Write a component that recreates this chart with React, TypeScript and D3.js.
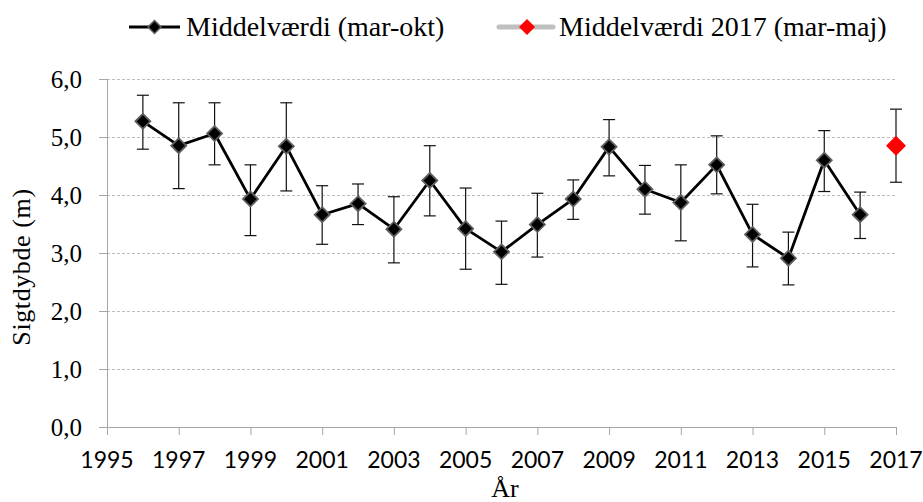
import * as d3 from 'd3';

// Sigtdybde, middelværdi mar-okt med min/max (fejlstreger)
const years = [1996, 1997, 1998, 1999, 2000, 2001, 2002, 2003, 2004, 2005, 2006, 2007, 2008, 2009, 2010, 2011, 2012, 2013, 2014, 2015, 2016];
const means = [5.27, 4.85, 5.06, 3.93, 4.84, 3.66, 3.85, 3.41, 4.25, 3.42, 3.02, 3.49, 3.93, 4.83, 4.1, 3.87, 4.52, 3.32, 2.91, 4.6, 3.66];
const upper = [5.72, 5.59, 5.59, 4.52, 5.59, 4.16, 4.19, 3.97, 4.85, 4.12, 3.55, 4.03, 4.26, 5.3, 4.51, 4.52, 5.02, 3.84, 3.36, 5.11, 4.05];
const lower = [4.79, 4.11, 4.52, 3.3, 4.07, 3.15, 3.49, 2.83, 3.64, 2.72, 2.46, 2.93, 3.58, 4.33, 3.67, 3.21, 4.02, 2.76, 2.45, 4.06, 3.25];

// 2017 (mar-maj)
const year2017 = [2017];
const mean2017 = [4.85];
const upper2017 = [5.48];
const lower2017 = [4.22];

const yTicks = [0, 1, 2, 3, 4, 5, 6];
const xTicks = [1995, 1997, 1999, 2001, 2003, 2005, 2007, 2009, 2011, 2013, 2015, 2017];
const legendLabels = ['Middelværdi (mar-okt)', 'Middelværdi 2017 (mar-maj)'];

const width = 923;
const height = 502;
const serif = '"Liberation Serif", serif';
const sans = 'Lato, "Liberation Sans", sans-serif';

const diamond = (cx: number, cy: number, r: number) =>
  `M${cx},${cy - r}L${cx + r},${cy}L${cx},${cy + r}L${cx - r},${cy}Z`;

export default function App() {
  const x = d3.scaleLinear().domain([1995, 2017]).range([107, 896]);
  const y = d3.scaleLinear().domain([0, 6]).range([427, 79]);

  const line = d3
    .line<number>()
    .x((_, i) => x(years[i]))
    .y((d) => y(d));

  const fmt = (v: number) => d3.format('.1f')(v).replace('.', ',');
  const cap = 6;

  return (
    <svg
      width={width}
      height={height}
      style={{ position: 'absolute', left: 0, top: 0, background: '#fff' }}
    >
      {/* gridlines */}
      {yTicks.slice(1).map((t) => (
        <line
          key={t}
          x1={x(1995)}
          x2={x(2017)}
          y1={y(t) + 0.5}
          y2={y(t) + 0.5}
          stroke="#bdbdbd"
          strokeWidth={1}
          strokeDasharray="3,2"
        />
      ))}

      {/* y axis */}
      <line x1={x(1995) + 0.5} x2={x(1995) + 0.5} y1={y(6)} y2={y(0)} stroke="#a6a6a6" />
      {yTicks.map((t) => (
        <g key={t}>
          <line x1={x(1995) - 8} x2={x(1995)} y1={y(t) + 0.5} y2={y(t) + 0.5} stroke="#a6a6a6" />
          <text
            x={x(1995) - 25}
            y={y(t)}
            dy="0.35em"
            textAnchor="end"
            fontFamily={serif}
            fontSize={25}
            fill="#000"
          >
            {fmt(t)}
          </text>
        </g>
      ))}

      {/* x axis */}
      <line x1={x(1995)} x2={x(2017)} y1={y(0) + 0.5} y2={y(0) + 0.5} stroke="#a6a6a6" />
      {xTicks.map((t) => (
        <g key={t}>
          <line x1={x(t) + 0.5} x2={x(t) + 0.5} y1={y(0)} y2={y(0) + 8} stroke="#a6a6a6" />
          <text x={x(t)} y={468} textAnchor="middle" fontFamily={sans} fontSize={23} fill="#000">
            {t}
          </text>
        </g>
      ))}

      {/* axis titles */}
      <text
        transform={`translate(30,${(y(0) + y(6)) / 2 + 14}) rotate(-90)`}
        textAnchor="middle"
        fontFamily={serif}
        fontSize={26}
        letterSpacing={0.6}
        fill="#000"
      >
        Sigtdybde (m)
      </text>
      <text x={505} y={497} textAnchor="middle" fontFamily={serif} fontSize={26} fill="#000">
        År
      </text>

      {/* error bars */}
      {years.map((yr, i) => (
        <g key={yr} stroke="#111" strokeWidth={1.2}>
          <line x1={x(yr)} x2={x(yr)} y1={y(upper[i])} y2={y(lower[i])} />
          <line x1={x(yr) - cap} x2={x(yr) + cap} y1={y(upper[i])} y2={y(upper[i])} />
          <line x1={x(yr) - cap} x2={x(yr) + cap} y1={y(lower[i])} y2={y(lower[i])} />
        </g>
      ))}
      {year2017.map((yr, i) => (
        <g key={yr} stroke="#111" strokeWidth={1.2}>
          <line x1={x(yr)} x2={x(yr)} y1={y(upper2017[i])} y2={y(lower2017[i])} />
          <line x1={x(yr) - cap} x2={x(yr) + cap} y1={y(upper2017[i])} y2={y(upper2017[i])} />
          <line x1={x(yr) - cap} x2={x(yr) + cap} y1={y(lower2017[i])} y2={y(lower2017[i])} />
        </g>
      ))}

      {/* mean line */}
      <path d={line(means) ?? ''} fill="none" stroke="#000" strokeWidth={2.8} strokeLinejoin="round" />
      {means.map((m, i) => (
        <path
          key={years[i]}
          d={diamond(x(years[i]), y(m), 7.5)}
          fill="#000"
          stroke="#5f5f5f"
          strokeWidth={1.8}
        />
      ))}
      {mean2017.map((m, i) => (
        <path key={year2017[i]} d={diamond(x(year2017[i]), y(m), 10)} fill="#ff0000" />
      ))}

      {/* legend */}
      <g>
        <line x1={129} x2={180} y1={27} y2={27} stroke="#000" strokeWidth={2.8} />
        <path d={diamond(154.5, 27, 6.5)} fill="#000" stroke="#5f5f5f" strokeWidth={1.5} />
        <text x={186} y={27} dy="0.33em" fontFamily={serif} fontSize={28} fill="#000">
          {legendLabels[0]}
        </text>
        <line x1={499} x2={553} y1={27} y2={27} stroke="#bfbfbf" strokeWidth={5} strokeLinecap="round" />
        <path d={diamond(527, 27, 8)} fill="#ff0000" />
        <text x={559} y={27} dy="0.33em" fontFamily={serif} fontSize={28} fill="#000">
          {legendLabels[1]}
        </text>
      </g>
    </svg>
  );
}
